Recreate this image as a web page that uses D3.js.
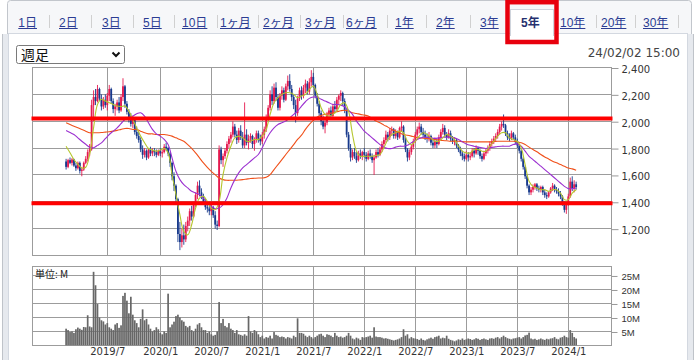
<!DOCTYPE html>
<html><head><meta charset="utf-8">
<script src="https://cdn.jsdelivr.net/npm/d3@7"></script>
<style>html,body{margin:0;padding:0;background:#fff;overflow:hidden}</style>
</head><body><svg id="c" width="698" height="360"></svg>
<script>
// ---------------- DATA ----------------
const tabLabels = ["1日","2日","3日","5日","10日","1ヶ月","2ヶ月","3ヶ月","6ヶ月","1年","2年","3年","5年","10年","20年","30年"];
const selectedTab = "5年";
const periodLabel = "週足";
const timestampLabel = "24/02/02 15:00";
const volumeUnitLabel = "単位: M";
const firstWeek = "2019-02-04";

const opens = [
1700,1660,1710,1690,1715,1670,1650,1690,1630,1640,
1690,1720,1770,1790,2120,2180,2150,2240,2170,2110,
2160,2120,2190,2240,2150,2090,2110,2140,2080,2180,
2260,2130,2070,2020,1980,2010,1920,1890,1860,1790,
1750,1780,1730,1790,1760,1780,1770,1750,1780,1760,
1770,1810,1800,1760,1690,1590,1520,1420,1160,1100,
1150,1120,1220,1260,1330,1290,1380,1450,1520,1470,
1440,1400,1360,1350,1330,1360,1300,1230,1220,1790,
1710,1740,1780,1830,1870,1900,1960,1900,1860,1930,
1880,1820,1900,1840,1870,1890,1830,1860,1910,1870,
1850,1900,1940,2020,2100,2200,2150,2250,2180,2100,
2190,2230,2160,2260,2300,2240,2180,2120,2060,2170,
2230,2190,2250,2280,2220,2290,2330,2270,2190,2130,
2060,2000,1960,1990,2050,2080,2040,2110,2090,2160,
2190,2210,2150,2080,1900,1800,1730,1770,1740,1710,
1760,1740,1770,1750,1720,1760,1740,1710,1730,1770,
1750,1790,1830,1860,1900,1880,1930,1940,1890,1920,
1880,1950,1960,1860,1790,1730,1770,1810,1850,1900,
1940,1960,1920,1900,1880,1870,1890,1840,1820,1850,
1830,1880,1920,1950,1900,1880,1910,1870,1850,1860,
1820,1790,1760,1740,1720,1750,1730,1740,1780,1760,
1800,1780,1740,1720,1760,1780,1800,1830,1850,1870,
1890,1920,1960,1980,1970,1910,1880,1870,1910,1880,
1850,1820,1780,1720,1660,1590,1520,1470,1490,1510,
1530,1500,1490,1510,1470,1450,1440,1470,1500,1520,
1490,1480,1460,1440,1390,1340,1380,1440,1550,1500,1530];
const highs = [
1720,1720,1730,1725,1720,1690,1700,1700,1660,1700,
1740,1790,1830,2160,2230,2240,2270,2250,2200,2180,
2200,2210,2270,2250,2170,2130,2160,2180,2200,2320,
2270,2150,2090,2060,2040,2020,1960,1920,1880,1820,
1800,1790,1800,1810,1800,1800,1790,1790,1800,1790,
1830,1840,1810,1770,1700,1620,1530,1430,1250,1200,
1230,1250,1290,1350,1370,1400,1470,1550,1560,1500,
1460,1420,1390,1370,1380,1370,1330,1260,1820,1810,
1760,1800,1850,1890,1920,2000,1980,1930,1950,1970,
1920,2140,1940,1900,1910,1900,1880,1930,1930,1900,
1920,1960,2050,2120,2230,2260,2280,2290,2200,2210,
2260,2250,2280,2340,2350,2270,2200,2160,2190,2250,
2260,2270,2310,2300,2320,2380,2360,2280,2210,2150,
2080,2040,2010,2070,2100,2110,2130,2150,2180,2200,
2230,2220,2170,2090,1920,1830,1790,1800,1770,1780,
1790,1780,1800,1770,1780,1790,1760,1750,1790,1800,
1810,1850,1880,1930,1920,1950,1960,1950,1940,1930,
1960,2000,1970,1880,1800,1790,1830,1870,1920,1960,
1990,1980,1950,1930,1910,1920,1900,1870,1880,1870,
1900,1940,1980,1970,1920,1940,1930,1890,1880,1870,
1830,1810,1780,1760,1780,1770,1770,1800,1800,1820,
1810,1790,1760,1780,1800,1820,1850,1870,1890,1910,
1940,1980,2000,2050,1980,1930,1910,1930,1920,1900,
1870,1830,1790,1730,1670,1600,1530,1510,1530,1540,
1540,1520,1520,1520,1490,1470,1480,1510,1540,1530,
1510,1500,1480,1450,1400,1390,1460,1580,1590,1560,1550];
const lows = [
1640,1650,1680,1670,1660,1630,1640,1610,1590,1630,
1680,1700,1740,1780,2000,2120,2140,2150,2080,2090,
2100,2080,2150,2130,2060,2040,2080,2060,2070,2150,
2100,2050,1990,1960,1950,1900,1870,1840,1770,1720,
1730,1710,1720,1740,1740,1740,1730,1740,1740,1730,
1760,1780,1740,1660,1560,1480,1380,1100,1040,1060,
1080,1100,1180,1220,1260,1280,1360,1420,1440,1420,
1380,1340,1320,1300,1300,1280,1200,1190,1210,1680,
1660,1720,1760,1800,1840,1880,1880,1830,1840,1860,
1800,1800,1820,1790,1840,1800,1780,1840,1840,1820,
1830,1870,1920,2000,2080,2120,2130,2150,2080,2080,
2160,2140,2150,2230,2220,2150,2090,1990,2040,2150,
2160,2170,2210,2200,2200,2260,2250,2170,2110,2040,
1970,1940,1910,1970,2010,2020,2030,2060,2070,2120,
2150,2120,2060,1880,1780,1700,1710,1720,1690,1700,
1720,1710,1730,1700,1710,1720,1690,1600,1720,1730,
1740,1770,1800,1840,1850,1860,1890,1870,1870,1860,
1870,1920,1840,1770,1700,1710,1750,1790,1840,1880,
1910,1900,1880,1860,1840,1850,1820,1800,1800,1800,
1820,1860,1900,1880,1860,1870,1850,1830,1820,1800,
1770,1740,1710,1700,1710,1700,1710,1730,1730,1750,
1750,1720,1700,1710,1740,1760,1780,1810,1830,1850,
1870,1900,1930,1950,1890,1860,1850,1860,1860,1830,
1800,1760,1700,1640,1570,1500,1450,1450,1470,1490,
1480,1470,1470,1450,1430,1420,1430,1460,1480,1470,
1460,1440,1420,1370,1320,1310,1370,1430,1480,1470,1490];
const closes = [
1660,1710,1690,1715,1670,1650,1690,1630,1640,1690,
1720,1770,1790,2120,2180,2150,2240,2170,2110,2160,
2120,2190,2240,2150,2090,2110,2140,2080,2180,2260,
2130,2070,2020,1980,2010,1920,1890,1860,1790,1750,
1780,1730,1790,1760,1780,1770,1750,1780,1760,1770,
1810,1800,1760,1690,1590,1520,1420,1160,1100,1150,
1120,1220,1260,1330,1290,1380,1450,1520,1470,1440,
1400,1360,1350,1330,1360,1300,1230,1220,1790,1710,
1740,1780,1830,1870,1900,1960,1900,1860,1930,1880,
1820,1900,1840,1870,1890,1830,1860,1910,1870,1850,
1900,1940,2020,2100,2200,2150,2250,2180,2100,2190,
2230,2160,2260,2300,2240,2180,2120,2060,2170,2230,
2190,2250,2280,2220,2290,2330,2270,2190,2130,2060,
2000,1960,1990,2050,2080,2040,2110,2090,2160,2190,
2210,2150,2080,1900,1800,1730,1770,1740,1710,1760,
1740,1770,1750,1720,1760,1740,1710,1730,1770,1750,
1790,1830,1860,1900,1880,1930,1940,1890,1920,1880,
1950,1960,1860,1790,1730,1770,1810,1850,1900,1940,
1960,1920,1900,1880,1870,1890,1840,1820,1850,1830,
1880,1920,1950,1900,1880,1910,1870,1850,1860,1820,
1790,1760,1740,1720,1750,1730,1740,1780,1760,1800,
1780,1740,1720,1760,1780,1800,1830,1850,1870,1890,
1920,1960,1980,1970,1910,1880,1870,1910,1880,1850,
1820,1780,1720,1660,1590,1520,1470,1490,1510,1530,
1500,1490,1510,1470,1450,1440,1470,1500,1520,1490,
1480,1460,1440,1390,1340,1380,1440,1550,1500,1530,1510];
// weekly volume, millions of shares
const volumes = [
6.0,5.5,4.8,5.0,4.5,5.8,6.4,6.0,5.6,6.6,
6.5,10.8,6.8,6.5,26.3,21.5,14.8,10.0,9.0,8.6,
7.5,8.0,6.5,6.0,5.5,7.5,8.0,6.3,7.2,17.7,
18.8,16.0,11.5,17.4,11.0,9.0,8.0,6.5,9.5,12.9,
9.0,9.5,7.5,6.0,5.0,5.5,6.5,5.8,4.5,4.0,
5.0,4.5,18.5,6.5,7.5,8.5,10.5,11.0,10.0,9.0,
8.5,7.0,6.5,7.0,5.5,5.0,6.0,7.5,8.0,6.5,
5.5,5.5,4.5,5.0,4.0,3.5,3.8,5.0,15.5,8.0,
9.5,7.0,6.5,8.0,6.0,5.5,4.5,5.5,4.0,3.8,
3.5,4.0,3.5,10.5,5.0,4.5,5.5,5.0,4.0,3.0,
3.5,2.5,3.0,2.8,3.5,2.5,4.8,3.8,3.5,3.0,
3.2,3.0,2.5,3.0,2.8,2.5,3.5,3.0,9.7,4.5,
4.5,4.2,3.5,3.0,3.5,3.0,2.5,3.0,3.5,4.0,
4.2,3.5,3.0,4.0,3.8,3.5,3.0,4.5,3.5,3.0,
3.2,2.8,3.0,3.5,4.5,3.5,2.5,2.2,2.8,2.5,
2.0,3.0,2.8,3.0,3.2,3.5,2.8,6.5,3.2,3.0,
3.0,2.8,2.5,2.6,2.4,2.2,2.0,1.8,2.0,2.2,
2.5,3.0,5.8,3.5,4.0,2.5,3.0,2.6,2.5,2.3,
2.0,2.5,2.0,1.8,2.2,2.5,2.8,2.4,3.0,3.2,
3.5,2.5,2.8,2.6,3.5,2.4,2.0,1.8,1.5,1.8,
2.2,2.0,2.5,2.0,2.2,2.5,2.3,2.0,2.2,2.6,
2.4,2.0,2.3,2.5,2.2,2.0,2.5,2.6,2.4,2.8,
3.0,2.5,3.0,3.5,3.0,2.6,2.4,2.2,2.5,2.6,
2.8,3.0,2.5,3.0,3.6,3.8,4.6,2.5,2.2,2.4,
2.0,2.2,2.5,2.2,2.0,2.4,2.2,2.5,2.6,3.0,
2.4,2.2,2.8,3.0,3.5,3.0,2.8,5.5,4.5,3.0,2.5];
// moving averages read every 2nd week (week 0,2,4,...,260)
const maSampleStep = 2;
const ma13 = [
1814,1765,1714,1680,1652,1657,1752,1951,2125,2163,
2150,2138,2125,2113,2110,2113,2075,2013,1950,1889,
1840,1797,1785,1777,1785,1797,1764,1602,1453,1304,
1179,1154,1229,1353,1428,1441,1403,1353,1341,1403,
1602,1727,1814,1876,1889,1876,1851,1851,1864,1864,
1889,1939,2051,2138,2175,2200,2212,2212,2200,2175,
2188,2200,2237,2262,2200,2100,2051,2038,2051,2075,
2125,2138,2075,1901,1777,1739,1739,1739,1739,1745,
1752,1802,1864,1901,1914,1926,1914,1851,1826,1851,
1889,1914,1901,1876,1851,1851,1876,1901,1889,1864,
1814,1777,1764,1764,1789,1789,1777,1777,1814,1851,
1889,1914,1914,1876,1864,1851,1802,1677,1553,1515,
1503,1490,1490,1478,1490,1490,1465,1416,1416,1465,
1490];
const ma26 = [
1931,1916,1901,1876,1851,1828,1807,1802,1820,1839,
1870,1901,1926,1951,1982,2013,2026,2038,2056,2063,
2038,1988,1939,1906,1889,1864,1826,1727,1627,1565,
1528,1503,1478,1465,1453,1428,1391,1366,1348,1353,
1378,1428,1503,1565,1615,1652,1677,1702,1727,1752,
1802,1864,1914,1951,1976,1988,2001,2026,2051,2075,
2113,2145,2170,2180,2180,2163,2150,2138,2125,2125,
2120,2108,2080,2051,2001,1963,1926,1901,1876,1851,
1826,1807,1797,1797,1807,1814,1814,1821,1839,1856,
1871,1881,1881,1876,1871,1876,1881,1881,1881,1876,
1864,1846,1831,1821,1814,1807,1802,1797,1802,1807,
1812,1814,1814,1814,1826,1831,1814,1777,1739,1714,
1690,1665,1640,1615,1590,1565,1540,1515,1498,1498,
1503];
const ma52 = [
1988,1975,1963,1951,1939,1926,1914,1914,1914,1916,
1919,1922,1926,1932,1939,1946,1946,1939,1939,1926,
1914,1906,1906,1901,1901,1901,1896,1889,1876,1864,
1851,1826,1797,1764,1727,1690,1657,1627,1602,1577,
1565,1560,1560,1560,1562,1565,1569,1573,1575,1577,
1577,1582,1602,1640,1677,1714,1752,1789,1826,1864,
1896,1939,1976,2006,2031,2043,2051,2058,2063,2070,
2078,2082,2075,2063,2058,2051,2046,2038,2021,2001,
1988,1971,1956,1939,1926,1914,1901,1896,1889,1881,
1876,1874,1871,1868,1864,1860,1856,1854,1851,1851,
1851,1848,1846,1846,1846,1846,1846,1846,1846,1848,
1851,1851,1851,1851,1851,1846,1839,1826,1807,1789,
1772,1752,1734,1719,1702,1690,1677,1665,1652,1645,
1635];
const priceTicks = [1200,1400,1600,1800,2000,2200,2400];
const volumeTicks = [5,10,15,20,25];
const dateTicks = ["2019-07-01","2020-01-06","2020-07-06","2021-01-04","2021-07-05","2022-01-03","2022-07-04","2023-01-02","2023-07-03","2024-01-01"];
const dateTickLabels = ["2019/7","2020/1","2020/7","2021/1","2021/7","2022/1","2022/7","2023/1","2023/7","2024/1"];
const horizontalLines = [2020, 1390];

// ---------------- LAYOUT ----------------
const tabX = [18.3,59,102,143,182,220,263,305,346,395,436,480,521,560,601,643];
const sepX = [49,91,133,174,217,258,300,343,387,426,470,596,635,678];
const P = {l:32.5, r:611.5, t:67.5, b:255.5};
const V = {t:266.5, b:345.5};
const C = {up:"#e5194e", down:"#17398c", vol:"#676767", grid:"#9c9c9c",
           ma13:"#b5c62e", ma26:"#9b30d0", ma52:"#f0501a", hline:"#ff0000"};
const sans = "'DejaVu Sans', Verdana, sans-serif";
const jp = "'Liberation Sans','Noto Sans CJK JP',sans-serif";

const svg = d3.select("#c");
const parse = d3.utcParse("%Y-%m-%d");
const t0 = parse(firstWeek);
const weeks = d3.range(closes.length).map(i => d3.utcDay.offset(t0, 7*i));
const x = d3.scaleUtc().domain([parse("2019-07-01"), parse("2024-01-01")]).range([107.3, 568.3]);
const y = d3.scaleLinear().domain([1000, 2400]).range([P.b, P.t]);
const yv = d3.scaleLinear().domain([0, 28.2]).range([V.b, V.t]);
const crisp = v => Math.round(v - 0.5) + 0.5;

// ---------- frame ----------
svg.append("rect").attr("x",7.5).attr("y",0.5).attr("width",684).attr("height",380)
  .attr("fill","#f6f7f9").attr("stroke","#c2c6cc").attr("rx",3);
svg.append("rect").attr("x",2).attr("y",34).attr("width",692).attr("height",340)
  .attr("fill","#e6e9ee");
svg.append("line").attr("x1",2.5).attr("x2",2.5).attr("y1",34).attr("y2",360).attr("stroke","#bfc3c9");
svg.append("line").attr("x1",693.5).attr("x2",693.5).attr("y1",34).attr("y2",360).attr("stroke","#bfc3c9");
svg.append("rect").attr("x",8.5).attr("y",33.5).attr("width",679).attr("height",340)
  .attr("fill","#fff").attr("stroke","#d3d8e0");

// ---------- tabs ----------
const tabs = svg.append("g");
const selIdx = tabLabels.indexOf(selectedTab);
tabs.append("rect").attr("x",510.5).attr("y",9.5).attr("width",43).attr("height",26)
  .attr("fill","#fff").attr("stroke","#cfd4dc");
tabs.append("rect").attr("x",511).attr("y",33).attr("width",42).attr("height",3).attr("fill","#fff");
tabLabels.forEach((lab,i) => {
  const sel = i === selIdx;
  const t = tabs.append("text").attr("x", tabX[i]).attr("y", 26.5)
    .attr("font-family", jp).attr("font-size", 12)
    .attr("font-weight", sel ? "bold" : "normal")
    .attr("fill", sel ? "#26306e" : "#2b3c93").text(lab);
  if (!sel) {
    const w = t.node().getComputedTextLength();
    tabs.append("line").attr("x1",tabX[i]).attr("x2",tabX[i]+w).attr("y1",28.5).attr("y2",28.5)
      .attr("stroke","#2b3c93").attr("stroke-width",1);
  }
});
sepX.forEach(sx => tabs.append("line").attr("x1",sx+0.5).attr("x2",sx+0.5).attr("y1",15).attr("y2",28)
  .attr("stroke","#d0d0d0"));
tabs.append("rect").attr("x",507.5).attr("y",2.2).attr("width",49).attr("height",39.8)
  .attr("fill","none").attr("stroke","#e8000d").attr("stroke-width",4.5);

// ---------- dropdown & timestamp ----------
svg.append("rect").attr("x",16.5).attr("y",45.5).attr("width",108).attr("height",18).attr("rx",2)
  .attr("fill","#fff").attr("stroke","#7a7a7a");
svg.append("text").attr("x",21).attr("y",59.5).attr("font-family","'Noto Sans CJK JP',sans-serif")
  .attr("font-size",14).attr("fill","#111").text(periodLabel);
svg.append("path").attr("d","M112.5,52.5 l3.5,3.5 l3.5,-3.5").attr("fill","none")
  .attr("stroke","#111").attr("stroke-width",2);
svg.append("text").attr("x",680).attr("y",57.3).attr("text-anchor","end")
  .attr("font-family",sans).attr("font-size",12).attr("fill","#444").text(timestampLabel);

// ---------- clip paths ----------
const defs = svg.append("defs");
defs.append("clipPath").attr("id","cp").append("rect")
  .attr("x",P.l).attr("y",P.t).attr("width",P.r-P.l).attr("height",P.b-P.t);
defs.append("clipPath").attr("id","cv").append("rect")
  .attr("x",P.l).attr("y",V.t).attr("width",P.r-P.l).attr("height",V.b-V.t);

// ---------- grids ----------
const grid = svg.append("g").attr("stroke", C.grid).attr("stroke-width",1).attr("fill","none");
dateTicks.forEach(d => {
  const xx = crisp(x(parse(d)));
  grid.append("line").attr("x1",xx).attr("x2",xx).attr("y1",P.t).attr("y2",P.b);
  grid.append("line").attr("x1",xx).attr("x2",xx).attr("y1",V.t).attr("y2",V.b);
});
priceTicks.filter(v => v < 2400).forEach(v => {
  const yy = crisp(y(v));
  grid.append("line").attr("x1",P.l).attr("x2",P.r).attr("y1",yy).attr("y2",yy);
});
volumeTicks.forEach(v => {
  const yy = crisp(yv(v));
  grid.append("line").attr("x1",P.l).attr("x2",P.r).attr("y1",yy).attr("y2",yy);
});
grid.append("rect").attr("x",P.l).attr("y",P.t).attr("width",P.r-P.l).attr("height",P.b-P.t);
grid.append("rect").attr("x",P.l).attr("y",V.t).attr("width",P.r-P.l).attr("height",V.b-V.t);

// ---------- axes ----------
const yAxis = d3.axisRight(y).tickValues(priceTicks).tickFormat(d3.format(",")).tickSize(7).tickPadding(3);
const gy = svg.append("g").attr("transform",`translate(${P.r},0.5)`).call(yAxis);
gy.select(".domain").remove();
gy.selectAll("line").attr("stroke","#999");
gy.selectAll("text").attr("font-family",sans).attr("font-size",10).attr("fill","#333").attr("dy","0.45em");

const vAxis = d3.axisRight(yv).tickValues(volumeTicks).tickFormat(d => d + "M").tickSize(6).tickPadding(4);
const gv = svg.append("g").attr("transform",`translate(${P.r},0.5)`).call(vAxis);
gv.select(".domain").remove();
gv.selectAll("line").attr("stroke","#999");
gv.selectAll("text").attr("font-family","'Liberation Sans',Arial,sans-serif").attr("font-size",9.5).attr("fill","#333").attr("dy","0.36em");

const xAxis = d3.axisBottom(x).tickValues(dateTicks.map(parse))
  .tickFormat((d,i) => dateTickLabels[i]).tickSize(0).tickPadding(0);
const gx = svg.append("g").attr("transform",`translate(0,${V.b})`).call(xAxis);
gx.select(".domain").remove();
gx.selectAll("text").attr("font-family",sans).attr("font-size",10).attr("fill","#333")
  .attr("dy",null).attr("y",9.5);

svg.append("text").attr("x",35).attr("y",277.5).attr("font-family","'Noto Sans CJK JP',sans-serif")
  .attr("font-size",10).attr("fill","#222").text(volumeUnitLabel);

// ---------- volume bars ----------
svg.append("g").attr("clip-path","url(#cv)").selectAll("rect").data(volumes).join("rect")
  .attr("x",(v,i) => x(weeks[i]) - 0.85).attr("width",1.7)
  .attr("y",v => yv(v)).attr("height",v => V.b - yv(v)).attr("fill",C.vol);

// ---------- candles ----------
const cg = svg.append("g").attr("clip-path","url(#cp)");
const idx = d3.range(closes.length);
const col = i => closes[i] >= opens[i] ? C.up : C.down;
cg.selectAll("line.w").data(idx).join("line").attr("class","w")
  .attr("x1",i => x(weeks[i])).attr("x2",i => x(weeks[i]))
  .attr("y1",i => y(highs[i])).attr("y2",i => y(lows[i]))
  .attr("stroke",col).attr("stroke-width",0.9);
cg.selectAll("rect.b").data(idx).join("rect").attr("class","b")
  .attr("x",i => x(weeks[i]) - 0.9).attr("width",1.8)
  .attr("y",i => y(Math.max(opens[i],closes[i])))
  .attr("height",i => Math.max(1, Math.abs(y(opens[i]) - y(closes[i]))))
  .attr("fill",col);

// ---------- moving averages ----------
const maWeeks = d3.range(ma13.length).map(k => weeks[k*maSampleStep]);
const line = d3.line().x((v,k) => x(maWeeks[k])).y(v => y(v)).curve(d3.curveCatmullRom.alpha(0.5));
[[ma52,C.ma52],[ma26,C.ma26],[ma13,C.ma13]].forEach(([arr,c]) => {
  cg.append("path").attr("d",line(arr)).attr("fill","none").attr("stroke",c).attr("stroke-width",1.1);
});

// ---------- horizontal reference lines ----------
horizontalLines.forEach(v => {
  svg.append("line").attr("x1",P.l-1).attr("x2",P.r+1).attr("y1",y(v)).attr("y2",y(v))
    .attr("stroke",C.hline).attr("stroke-width",4);
});
</script></body></html>
